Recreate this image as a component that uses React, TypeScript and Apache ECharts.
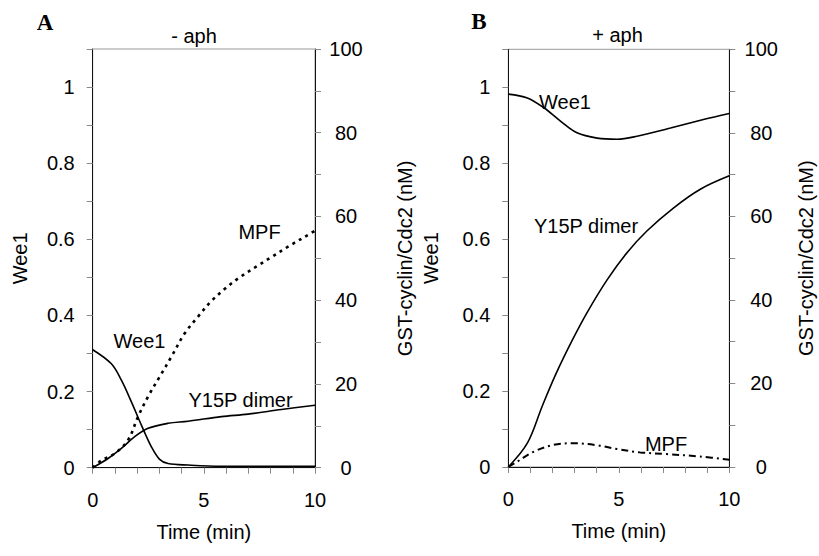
import React, { useEffect, useRef } from "react";
import * as echarts from "echarts";

// ---------- Data (time in min) ----------
// Panel A (- aph)
const wee1A_t = [0, 0.84, 1.29, 1.74, 2.19, 2.64, 3.01, 3.39, 4.29, 5.79, 10];
const wee1A_v = [0.31, 0.273, 0.23, 0.173, 0.112, 0.055, 0.022, 0.011, 0.007, 0.004, 0.004];

const y15pA_t = [0, 0.69, 1.29, 1.89, 2.49, 3.39, 4.29, 5.79, 6.99, 8.49, 10];
const y15pA_v = [0, 2.2, 4.6, 7.4, 9.4, 10.6, 11.1, 12.2, 12.8, 13.9, 14.9];

const mpfA_t = [0, 0.39, 0.99, 1.59, 2.04, 2.49, 3.01, 3.54, 4.14, 4.74, 5.34, 6.01, 6.54, 7.44, 8.04, 8.79, 9.91, 10];
const mpfA_v = [0, 1.7, 3.4, 6.6, 12.2, 17.0, 21.7, 26.5, 32.1, 36.1, 39.8, 43.0, 45.2, 48.3, 50.3, 52.8, 56.3, 56.6];

// Panel B (+ aph)
const wee1B_t = [0, 0.86, 1.61, 2.36, 3.11, 4.02, 4.92, 5.82, 7.34, 8.83, 10];
const wee1B_v = [0.982, 0.972, 0.946, 0.911, 0.88, 0.866, 0.863, 0.871, 0.893, 0.915, 0.931];

const y15pB_t = [0, 0.86, 1.53, 2.13, 2.89, 3.59, 4.47, 5.37, 6.27, 7.47, 8.69, 10];
const y15pB_v = [0, 5.7, 14.5, 22.0, 30.3, 37.2, 44.8, 51.3, 56.5, 62.0, 66.5, 69.7];

const mpfB_t = [0, 0.41, 1.16, 2.06, 2.96, 4.02, 4.92, 5.97, 7.17, 8.68, 10];
const mpfB_v = [0, 1.3, 3.7, 5.3, 5.7, 5.2, 4.3, 3.5, 3.1, 2.5, 1.75];

// Axis ticks / labels
const xTicksShown = [0, 5, 10];
const leftLabelsShown = [0, 0.2, 0.4, 0.6, 0.8, 1];
const rightLabelsShown = [0, 20, 40, 60, 80, 100];

const panelTitles = ["- aph", "+ aph"];
const panelLetters = ["A", "B"];

const FONT = "'Liberation Sans', Arial, Helvetica, sans-serif";

function pairs(t: number[], v: number[]) {
  return t.map((x, i) => [x, v[i]]);
}

function xAxis(gridIndex: number) {
  return {
    type: "value",
    gridIndex,
    min: 0,
    max: 10,
    interval: 1,
    name: "Time (min)",
    nameLocation: "middle",
    nameGap: 54,
    nameTextStyle: { fontFamily: FONT, fontSize: 20, color: "#000" },
    axisLine: { show: true, onZero: false, lineStyle: { color: "#111", width: 1 } },
    axisTick: { show: true, inside: false, length: 6, lineStyle: { color: "#888" } },
    axisLabel: {
      show: true,
      margin: 22,
      fontFamily: FONT,
      fontSize: 20,
      color: "#000",
      formatter: (v: number) => (xTicksShown.includes(Math.round(v)) ? String(Math.round(v)) : ""),
    },
    splitLine: { show: false },
  };
}

function leftAxis(gridIndex: number, nameGap: number) {
  return {
    type: "value",
    gridIndex,
    position: "left",
    min: 0,
    max: 1.1,
    interval: 0.1,
    name: "Wee1",
    nameLocation: "middle",
    nameGap,
    nameTextStyle: { fontFamily: FONT, fontSize: 20, color: "#000" },
    axisLine: { show: true, onZero: false, lineStyle: { color: "#111", width: 1 } },
    axisTick: { show: true, inside: false, length: 6, lineStyle: { color: "#888" } },
    axisLabel: {
      show: true,
      margin: 18,
      fontFamily: FONT,
      fontSize: 20,
      color: "#000",
      formatter: (v: number) => {
        const r = Math.round(v * 10) / 10;
        return leftLabelsShown.some((s) => Math.abs(s - r) < 1e-6) ? String(r) : "";
      },
    },
    splitLine: { show: false },
  };
}

function rightAxis(gridIndex: number, nameGap: number, margin: number) {
  return {
    type: "value",
    gridIndex,
    position: "right",
    min: 0,
    max: 100,
    interval: 10,
    name: "GST-cyclin/Cdc2 (nM)",
    nameLocation: "middle",
    nameGap,
    nameTextStyle: { fontFamily: FONT, fontSize: 20, color: "#000" },
    axisLine: { show: true, onZero: false, lineStyle: { color: "#111", width: 1 } },
    axisTick: { show: true, inside: false, length: 6, lineStyle: { color: "#888" } },
    axisLabel: {
      show: true,
      margin,
      align: "center",
      fontFamily: FONT,
      fontSize: 20,
      color: "#000",
      formatter: (v: number) => (rightLabelsShown.includes(Math.round(v)) ? String(Math.round(v)) : ""),
    },
    splitLine: { show: false },
  };
}

function line(name: string, xi: number, yi: number, data: number[][], lineType: any, width: number) {
  return {
    type: "line",
    name,
    xAxisIndex: xi,
    yAxisIndex: yi,
    data,
    showSymbol: false,
    symbol: "none",
    smooth: 0.35,
    lineStyle: { color: "#000", width, type: lineType, cap: "butt" },
    z: 3,
  };
}

function txt(text: string, x: number, y: number, size = 20, font = FONT, weight: any = "normal") {
  return {
    type: "text",
    x,
    y,
    z: 10,
    style: {
      text,
      fill: "#000",
      fontSize: size,
      fontFamily: font,
      fontWeight: weight,
      align: "center",
      verticalAlign: "middle",
    },
  };
}

export default function App() {
  const ref = useRef<HTMLDivElement>(null);

  useEffect(() => {
    if (!ref.current) return;
    const chart = echarts.init(ref.current, null, { renderer: "svg" });
    const option: any = {
      animation: false,
      backgroundColor: "#fff",
      grid: [
        { left: 92.7, top: 49, width: 222.3, height: 418.7, show: true, borderColor: "#999", borderWidth: 1 },
        { left: 508.3, top: 49.3, width: 221, height: 417.7, show: true, borderColor: "#999", borderWidth: 1 },
      ],
      xAxis: [xAxis(0), xAxis(1)],
      yAxis: [leftAxis(0, 63), rightAxis(0, 80, 31), leftAxis(1, 67), rightAxis(1, 67, 32)],
      series: [
        line("Wee1 A", 0, 0, pairs(wee1A_t, wee1A_v), "solid", 1.6),
        line("Y15P dimer A", 0, 1, pairs(y15pA_t, y15pA_v), "solid", 1.6),
        line("MPF A", 0, 1, pairs(mpfA_t, mpfA_v), [3, 4.5], 2.6),
        line("Wee1 B", 1, 2, pairs(wee1B_t, wee1B_v), "solid", 1.6),
        line("Y15P dimer B", 1, 3, pairs(y15pB_t, y15pB_v), "solid", 1.6),
        line("MPF B", 1, 3, pairs(mpfB_t, mpfB_v), [7, 4, 2, 4], 2),
      ],
      graphic: [
        txt(panelLetters[0], 45, 22.5, 23, "'Liberation Serif', 'Times New Roman', serif", "bold"),
        txt(panelLetters[1], 479, 21, 23, "'Liberation Serif', 'Times New Roman', serif", "bold"),
        txt(panelTitles[0], 194, 35.5),
        txt(panelTitles[1], 617.5, 35),
        txt("MPF", 259.5, 231.5),
        txt("Wee1", 139.5, 341),
        txt("Y15P dimer", 240.5, 400),
        txt("Wee1", 565, 101.5),
        txt("Y15P dimer", 586, 226),
        txt("MPF", 666, 444),
      ],
    };
    chart.setOption(option);
    return () => chart.dispose();
  }, []);

  return (
    <div
      ref={ref}
      style={{ position: "fixed", left: 0, top: 0, width: 819, height: 556, background: "#fff" }}
    />
  );
}
